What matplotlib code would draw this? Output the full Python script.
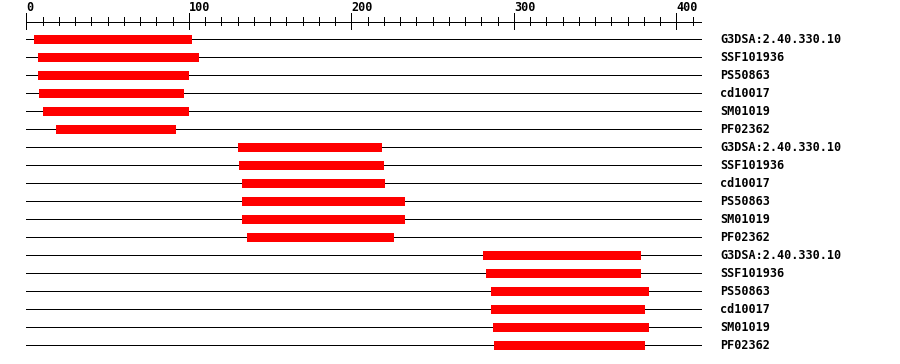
import numpy as np
import matplotlib
matplotlib.use("Agg")
import matplotlib.pyplot as plt

# Domain hits, one per row (top to bottom)
labels = [
    "G3DSA:2.40.330.10", "SSF101936", "PS50863", "cd10017", "SM01019", "PF02362",
    "G3DSA:2.40.330.10", "SSF101936", "cd10017", "PS50863", "SM01019", "PF02362",
    "G3DSA:2.40.330.10", "SSF101936", "PS50863", "cd10017", "SM01019", "PF02362",
]
starts = [5, 7, 7, 8, 10, 18,
          130, 131, 133, 133, 133, 136,
          281, 283, 286, 286, 287, 288]
ends = [102, 106, 100, 97, 100, 92,
        219, 220, 221, 233, 233, 226,
        378, 378, 383, 381, 383, 381]
seq_len = 415
major_ticks = [0, 100, 200, 300, 400]
minor_ticks = np.arange(0, 411, 10)

font = dict(family="DejaVu Sans Mono", fontweight="bold", fontsize=8.5)
lw = 0.72  # one pixel at 100 dpi

fig = plt.figure(figsize=(9, 3.64), dpi=100)
ax = fig.add_axes([0, 0, 1, 1])
ax.set_xlim(-16.2, 537.7)
ax.set_ylim(18.04, -2.183)
ax.axis("off")

rows = np.arange(len(labels))

# sequence lines
for r in rows:
    ax.plot([0, seq_len], [r, r], color="black", lw=lw, antialiased=False, zorder=1)

# domain bars
ax.barh(rows, np.array(ends) - np.array(starts), left=starts, height=0.5,
        color="#ff0000", edgecolor="none", antialiased=False, zorder=2)

# labels on the right
for r, lab in zip(rows, labels):
    ax.text(seq_len + 12, r, lab, ha="left", va="center", **font)

# ruler on top
ruler_y = -0.96
ax.plot([0, seq_len], [ruler_y, ruler_y], color="black", lw=lw, antialiased=False)
for t in minor_ticks:
    if t in major_ticks:
        ax.plot([t, t], [-1.46, -0.57], color="black", lw=lw, antialiased=False)
    else:
        ax.plot([t, t], [-1.24, -0.79], color="black", lw=lw, antialiased=False)
for t in major_ticks:
    ax.text(t, -1.42, str(t), ha="left", va="bottom", **font)

fig.savefig("out.png", dpi=100)
